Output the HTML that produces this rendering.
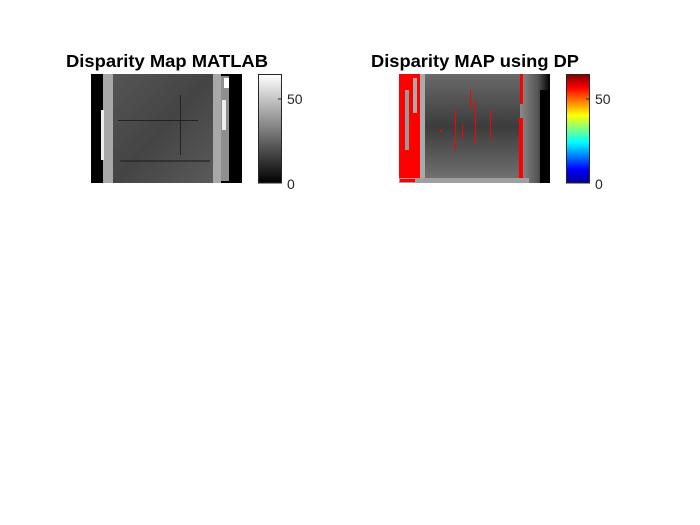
<!DOCTYPE html>
<html><head><meta charset="utf-8"><style>
body{margin:0;background:#fff;}
svg{display:block;font-family:"Liberation Sans",Arial,sans-serif;}
</style></head><body>
<svg width="700" height="525" viewBox="0 0 700 525">
<defs>
<linearGradient id="gray" x1="0" y1="1" x2="0" y2="0"><stop offset="0" stop-color="#000"/><stop offset="1" stop-color="#fff"/></linearGradient>
<linearGradient id="jet" x1="0" y1="1" x2="0" y2="0">
<stop offset="0" stop-color="#00008f"/><stop offset="0.125" stop-color="#0000ff"/><stop offset="0.375" stop-color="#00ffff"/><stop offset="0.625" stop-color="#ffff00"/><stop offset="0.875" stop-color="#ff0000"/><stop offset="1" stop-color="#800000"/></linearGradient>
<linearGradient id="leftmain" x1="0" y1="0" x2="1" y2="1"><stop offset="0" stop-color="#555"/><stop offset="0.5" stop-color="#444"/><stop offset="1" stop-color="#5a5a5a"/></linearGradient>
<linearGradient id="rightmain" x1="0" y1="0" x2="0" y2="1"><stop offset="0" stop-color="#6a6a6a"/><stop offset="0.5" stop-color="#3c3c3c"/><stop offset="1" stop-color="#707070"/></linearGradient>
<linearGradient id="rightfade" x1="0" y1="0" x2="1" y2="0"><stop offset="0" stop-color="#8a8a8a"/><stop offset="0.6" stop-color="#555"/><stop offset="1" stop-color="#000"/></linearGradient>
</defs>

<text x="167" y="67" text-anchor="middle" font-size="17.5" font-weight="bold" textLength="202" lengthAdjust="spacingAndGlyphs">Disparity Map MATLAB</text>
<g>
<rect x="91" y="74" width="151" height="109" fill="#000"/>
<rect x="103" y="74" width="10" height="109" fill="#a8a8a8"/>
<rect x="113" y="74" width="100" height="109" fill="url(#leftmain)"/>
<rect x="213" y="74" width="8" height="109" fill="#a8a8a8"/>
<rect x="221" y="76" width="8" height="105" fill="#ccc" opacity="0.7"/>
<rect x="224" y="78" width="5" height="10" fill="#fff"/>
<rect x="222" y="100" width="4" height="30" fill="#eee"/>
<rect x="101" y="110" width="3" height="50" fill="#eee"/>
<rect x="118" y="120" width="80" height="1" fill="#222"/>
<rect x="180" y="95" width="1" height="60" fill="#222"/>
<rect x="120" y="160" width="90" height="2" fill="#222" opacity="0.6"/>
</g>
<g>
<rect x="258.5" y="74.5" width="23" height="108.5" fill="url(#gray)" stroke="#262626" stroke-width="1"/>
<line x1="281" y1="99" x2="278" y2="99" stroke="#262626"/>
<text x="287" y="104" font-size="14" fill="#262626">50</text>
<text x="287" y="189" font-size="14" fill="#262626">0</text>
</g>

<text x="475" y="67" text-anchor="middle" font-size="17.5" font-weight="bold" textLength="208" lengthAdjust="spacingAndGlyphs">Disparity MAP using DP</text>
<g>
<rect x="399" y="74" width="151" height="109" fill="#888"/>
<rect x="425" y="74" width="95" height="105" fill="url(#rightmain)"/>
<rect x="520" y="74" width="30" height="109" fill="url(#rightfade)"/>
<rect x="540" y="90" width="10" height="93" fill="#000"/>
<rect x="399" y="74" width="21" height="109" fill="#ff0000"/>
<rect x="405" y="90" width="4" height="60" fill="#999"/>
<rect x="413" y="78" width="4" height="35" fill="#aaa"/>
<rect x="420" y="74" width="5" height="109" fill="#aaa"/>
<rect x="520" y="74" width="3" height="30" fill="#ff0000"/>
<rect x="519" y="118" width="4" height="60" fill="#ff0000"/>
<rect x="399" y="178" width="130" height="5" fill="#a0a0a0"/>
<rect x="400" y="179" width="15" height="3" fill="#ff0000"/>
<g fill="#ff0000">
<rect x="455" y="110" width="1" height="40"/><rect x="475" y="100" width="1" height="45"/>
<rect x="490" y="110" width="1" height="30"/><rect x="462" y="125" width="1" height="15"/>
<rect x="440" y="130" width="2" height="2"/><rect x="470" y="90" width="1" height="20"/>
</g>
</g>
<g>
<rect x="566.5" y="74.5" width="23" height="108.5" fill="url(#jet)" stroke="#262626" stroke-width="1"/>
<line x1="589" y1="99" x2="586" y2="99" stroke="#262626"/>
<text x="595" y="104" font-size="14" fill="#262626">50</text>
<text x="595" y="189" font-size="14" fill="#262626">0</text>
</g>
</svg>
</body></html>
